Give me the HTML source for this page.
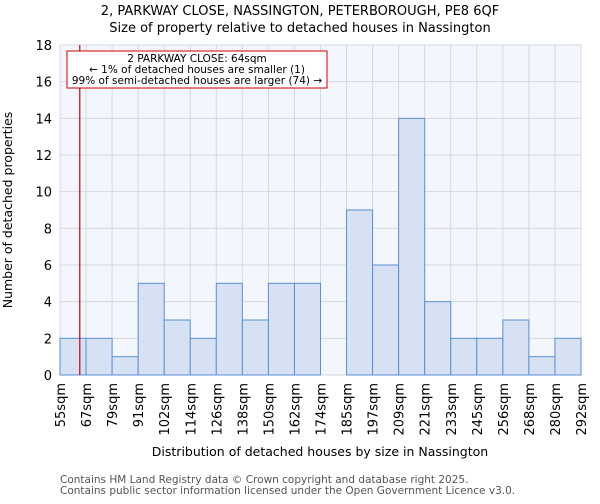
<!DOCTYPE html>
<html><head><meta charset="utf-8"><style>
body{margin:0;background:#fff;font-family:"DejaVu Sans","Liberation Sans",sans-serif}
</style></head><body>
<svg width="600" height="500" xmlns="http://www.w3.org/2000/svg" font-family="DejaVu Sans, Liberation Sans, sans-serif">
<text x="300" y="15" text-anchor="middle" font-size="13">2, PARKWAY CLOSE, NASSINGTON, PETERBOROUGH, PE8 6QF</text>
<text x="300" y="32" text-anchor="middle" font-size="13">Size of property relative to detached houses in Nassington</text>
<rect x="60" y="45" width="521" height="330" fill="#f3f6fc"/>
<g id="grid"></g><g id="bars"></g><g id="axes"></g>
<text x="320" y="456" text-anchor="middle" font-size="12.5">Distribution of detached houses by size in Nassington</text>
<text transform="translate(12,210) rotate(-90)" text-anchor="middle" font-size="12.5">Number of detached properties</text>
<text x="60" y="483" font-size="10.5" fill="#555">Contains HM Land Registry data © Crown copyright and database right 2025.</text>
<text x="60" y="494" font-size="10.5" fill="#555">Contains public sector information licensed under the Open Government Licence v3.0.</text>
<line x1="80" y1="45" x2="80" y2="375" stroke="#c00" stroke-width="1.2" id="marker"/>
<rect x="67" y="51" width="260" height="37" fill="#fff" stroke="#c00"/>
<text x="197" y="62" text-anchor="middle" font-size="10.5">2 PARKWAY CLOSE: 64sqm</text>
<text x="197" y="73" text-anchor="middle" font-size="10.5">← 1% of detached houses are smaller (1)</text>
<text x="197" y="84" text-anchor="middle" font-size="10.5">99% of semi-detached houses are larger (74) →</text>
</svg>
<script>
const binLabels=["55sqm","67sqm","79sqm","91sqm","102sqm","114sqm","126sqm","138sqm","150sqm","162sqm","174sqm","185sqm","197sqm","209sqm","221sqm","233sqm","245sqm","256sqm","268sqm","280sqm","292sqm"];
const counts=[2,2,1,5,3,2,5,3,5,5,0,9,6,14,4,2,2,3,1,2];
const yTicks=[0,2,4,6,8,10,12,14,16,18];
const propertySize=64;
const sizeMin=55, sizeMax=292;
const X0=60,X1=581,Y0=375,Y1=45;
const ns="http://www.w3.org/2000/svg";
const bw=(X1-X0)/counts.length;
const xs=i=>X0+i*bw;
const ys=v=>Y0-(v/18)*(Y0-Y1);
function mk(t,a,p){const e=document.createElementNS(ns,t);for(const k in a)e.setAttribute(k,a[k]);p.appendChild(e);return e;}
const g=document.getElementById('grid'),b=document.getElementById('bars'),ax=document.getElementById('axes');
yTicks.forEach(v=>{const l=mk('line',{x1:X0,x2:X1,y1:ys(v),y2:ys(v),stroke:'#d3d9e2'},g);


const t=mk('text',{x:X0-8,y:ys(v)+5,'text-anchor':'end','font-size':'13'},ax);t.textContent=v;

});
binLabels.forEach((s,i)=>{const l=mk('line',{x1:xs(i),x2:xs(i),y1:Y1,y2:Y0,stroke:'#d3d9e2'},g);


const t=mk('text',{transform:`translate(${xs(i)+5},${Y0+8}) rotate(-90)`,'text-anchor':'end','font-size':'13'},ax);t.textContent=s;

});
counts.forEach((c,i)=>{if(!c)return;const r=mk('rect',{x:xs(i),y:ys(c),width:bw,height:Y0-ys(c),fill:'#d6e2f3',stroke:'#5b8fd6','stroke-width':1},b);

});
const mx=X0+(propertySize-sizeMin)/(sizeMax-sizeMin)*(X1-X0);
const m=document.getElementById('marker');m.setAttribute('x1',mx);m.setAttribute('x2',mx);
</script>
</body></html>
